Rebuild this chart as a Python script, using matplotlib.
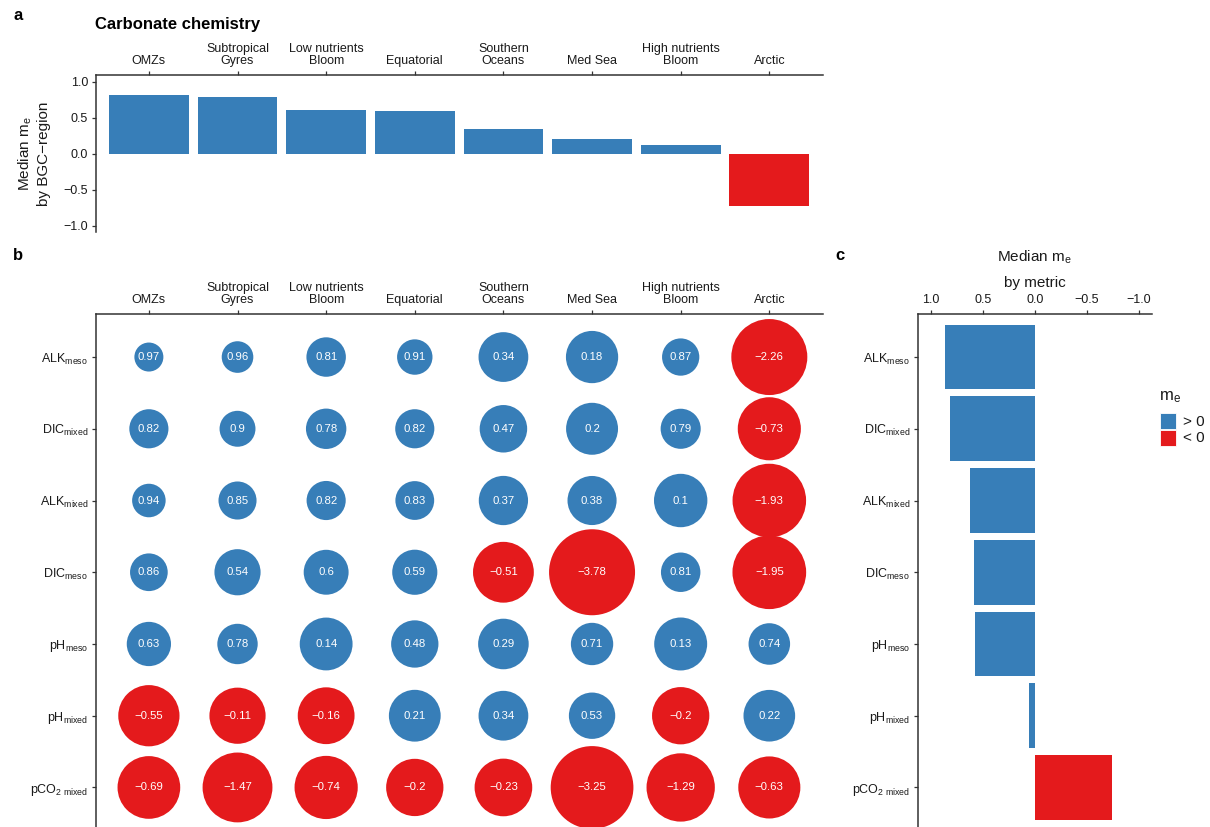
import numpy as np
import matplotlib
matplotlib.use("Agg")
import matplotlib.pyplot as plt
from matplotlib.patches import Rectangle

plt.rcParams['font.family'] = ['Liberation Sans', 'DejaVu Sans']
plt.rcParams['mathtext.fontset'] = 'custom'
plt.rcParams['mathtext.rm'] = 'Liberation Sans'
plt.rcParams['mathtext.it'] = 'Liberation Sans'

# ---- data ----
regions = ["OMZs", "Subtropical\nGyres", "Low nutrients\nBloom", "Equatorial",
           "Southern\nOceans", "Med Sea", "High nutrients\nBloom", "Arctic"]
region_median = [0.815, 0.787, 0.607, 0.593, 0.343, 0.204, 0.121, -0.722]

metrics = [r"ALK$_{\mathrm{meso}}$", r"DIC$_{\mathrm{mixed}}$", r"ALK$_{\mathrm{mixed}}$",
           r"DIC$_{\mathrm{meso}}$", r"pH$_{\mathrm{meso}}$", r"pH$_{\mathrm{mixed}}$",
           r"pCO$_{2\ \mathrm{mixed}}$"]

alk_meso   = [0.97, 0.96, 0.81, 0.91, 0.34, 0.18, 0.87, -2.26]
dic_mixed  = [0.82, 0.9, 0.78, 0.82, 0.47, 0.2, 0.79, -0.73]
alk_mixed  = [0.94, 0.85, 0.82, 0.83, 0.37, 0.38, 0.1, -1.93]
dic_meso   = [0.86, 0.54, 0.6, 0.59, -0.51, -3.78, 0.81, -1.95]
ph_meso    = [0.63, 0.78, 0.14, 0.48, 0.29, 0.71, 0.13, 0.74]
ph_mixed   = [-0.55, -0.11, -0.16, 0.21, 0.34, 0.53, -0.2, 0.22]
pco2_mixed = [-0.69, -1.47, -0.74, -0.2, -0.23, -3.25, -1.29, -0.63]

metric_median = [0.865, 0.81, 0.625, 0.58, 0.575, 0.058, -0.74]

BLUE = "#377EB8"
RED = "#E41A1C"
TXT = "#1a1a1a"
AXC = "#333333"

def colors_for(vals):
    return [BLUE if v > 0 else RED for v in vals]

def fmt(v):
    return f"{v:g}".replace("-", "\u2212")

def style_axes(ax):
    for s in ["right", "bottom"]:
        ax.spines[s].set_visible(False)
    for s in ["left", "top"]:
        ax.spines[s].set_color(AXC)
        ax.spines[s].set_linewidth(1.1)
    ax.xaxis.tick_top()
    ax.tick_params(axis="both", length=3, width=0.9, color=AXC,
                   labelsize=9, labelcolor=TXT, pad=2.5)

fig = plt.figure(figsize=(12.1, 8.27), dpi=100)

W, H = 1210, 827
def rect(l, t, r, b):
    return [l / W, 1 - b / H, (r - l) / W, (b - t) / H]

x = np.arange(len(regions))

# ---- panel a ----
ax_a = fig.add_axes(rect(95.7, 74.7, 822.5, 232))
ax_a.bar(x, region_median, width=0.9, color=colors_for(region_median))
ax_a.set_xlim(-0.6, len(regions) - 0.4)
ax_a.set_ylim(-1.09, 1.1)
ax_a.set_xticks(x)
ax_a.set_xticklabels(regions, linespacing=1.05)
ax_a.set_yticks([1.0, 0.5, 0.0, -0.5, -1.0])
ax_a.set_yticklabels(["1.0", "0.5", "0.0", "\u22120.5", "\u22121.0"])
style_axes(ax_a)
ax_a.set_ylabel("Median m$_{\\mathrm{e}}$\nby BGC\u2212region", fontsize=11,
                color=TXT, linespacing=1.3)
ax_a.yaxis.set_label_coords(-0.0615, 0.5)
fig.text(95 / W, 1 - 24 / H, "Carbonate chemistry", fontsize=12, fontweight="bold",
         va="center", ha="left", color="black")

# ---- panel b ----
grid = np.array([alk_meso, dic_mixed, alk_mixed, dic_meso, ph_meso, ph_mixed, pco2_mixed])
ax_b = fig.add_axes(rect(95.7, 314, 822.5, 830.5))
yy, xx = np.meshgrid(np.arange(len(metrics)), x, indexing="ij")
size_var = 1 - grid
scaled = np.sqrt((size_var - size_var.min()) / (size_var.max() - size_var.min()))
diam_pt = (29 + 57 * scaled) * 72 / 100
ax_b.scatter(xx.ravel(), yy.ravel(), s=diam_pt.ravel() ** 2,
             c=colors_for(grid.ravel()), linewidths=0)
for (i, j), v in np.ndenumerate(grid):
    ax_b.text(j, i, fmt(v), ha="center", va="center", color="white", fontsize=8.2)
ax_b.set_xlim(-0.6, len(regions) - 0.4)
ax_b.set_ylim(len(metrics) - 0.4, -0.6)
ax_b.set_xticks(x)
ax_b.set_xticklabels(regions, linespacing=1.05)
ax_b.set_yticks(np.arange(len(metrics)))
ax_b.set_yticklabels(metrics)
style_axes(ax_b)

# ---- panel c ----
yc = np.arange(len(metrics))
ax_c = fig.add_axes(rect(917.7, 314, 1151.7, 830.5))
ax_c.barh(yc, metric_median, height=0.9, color=colors_for(metric_median))
ax_c.set_xlim(1.125, -1.125)
ax_c.set_ylim(len(metrics) - 0.4, -0.6)
ax_c.set_xticks([1.0, 0.5, 0.0, -0.5, -1.0])
ax_c.set_xticklabels(["1.0", "0.5", "0.0", "\u22120.5", "\u22121.0"])
ax_c.set_yticks(yc)
ax_c.set_yticklabels(metrics)
style_axes(ax_c)
fig.text(1034.7 / W, 1 - 257 / H, "Median m$_{\\mathrm{e}}$", fontsize=11,
         ha="center", va="center", color=TXT)
fig.text(1034.7 / W, 1 - 283 / H, "by metric", fontsize=11,
         ha="center", va="center", color=TXT)

# legend (drawn by hand to match the key layout)
fig.text(1159 / W, 1 - 397 / H, "m$_{\\mathrm{e}}$", fontsize=12,
         ha="left", va="center", color=TXT)
for k, (col, lab) in enumerate([(BLUE, "> 0"), (RED, "< 0")]):
    top = 413 + k * 17
    fig.add_artist(Rectangle((1160 / W, 1 - (top + 16) / H), 16 / W, 16 / H,
                             transform=fig.transFigure, facecolor=col,
                             edgecolor="white", linewidth=0.6))
    fig.text(1183 / W, 1 - (top + 8.5) / H, lab, fontsize=11,
             ha="left", va="center", color=TXT)

# panel letters
for lbl, px, py in [("a", 13, 15), ("b", 13, 255), ("c", 835, 255)]:
    fig.text(px / W, 1 - py / H, lbl, fontsize=12, fontweight="bold",
             ha="left", va="center")

fig.savefig("out.png", dpi=100)
